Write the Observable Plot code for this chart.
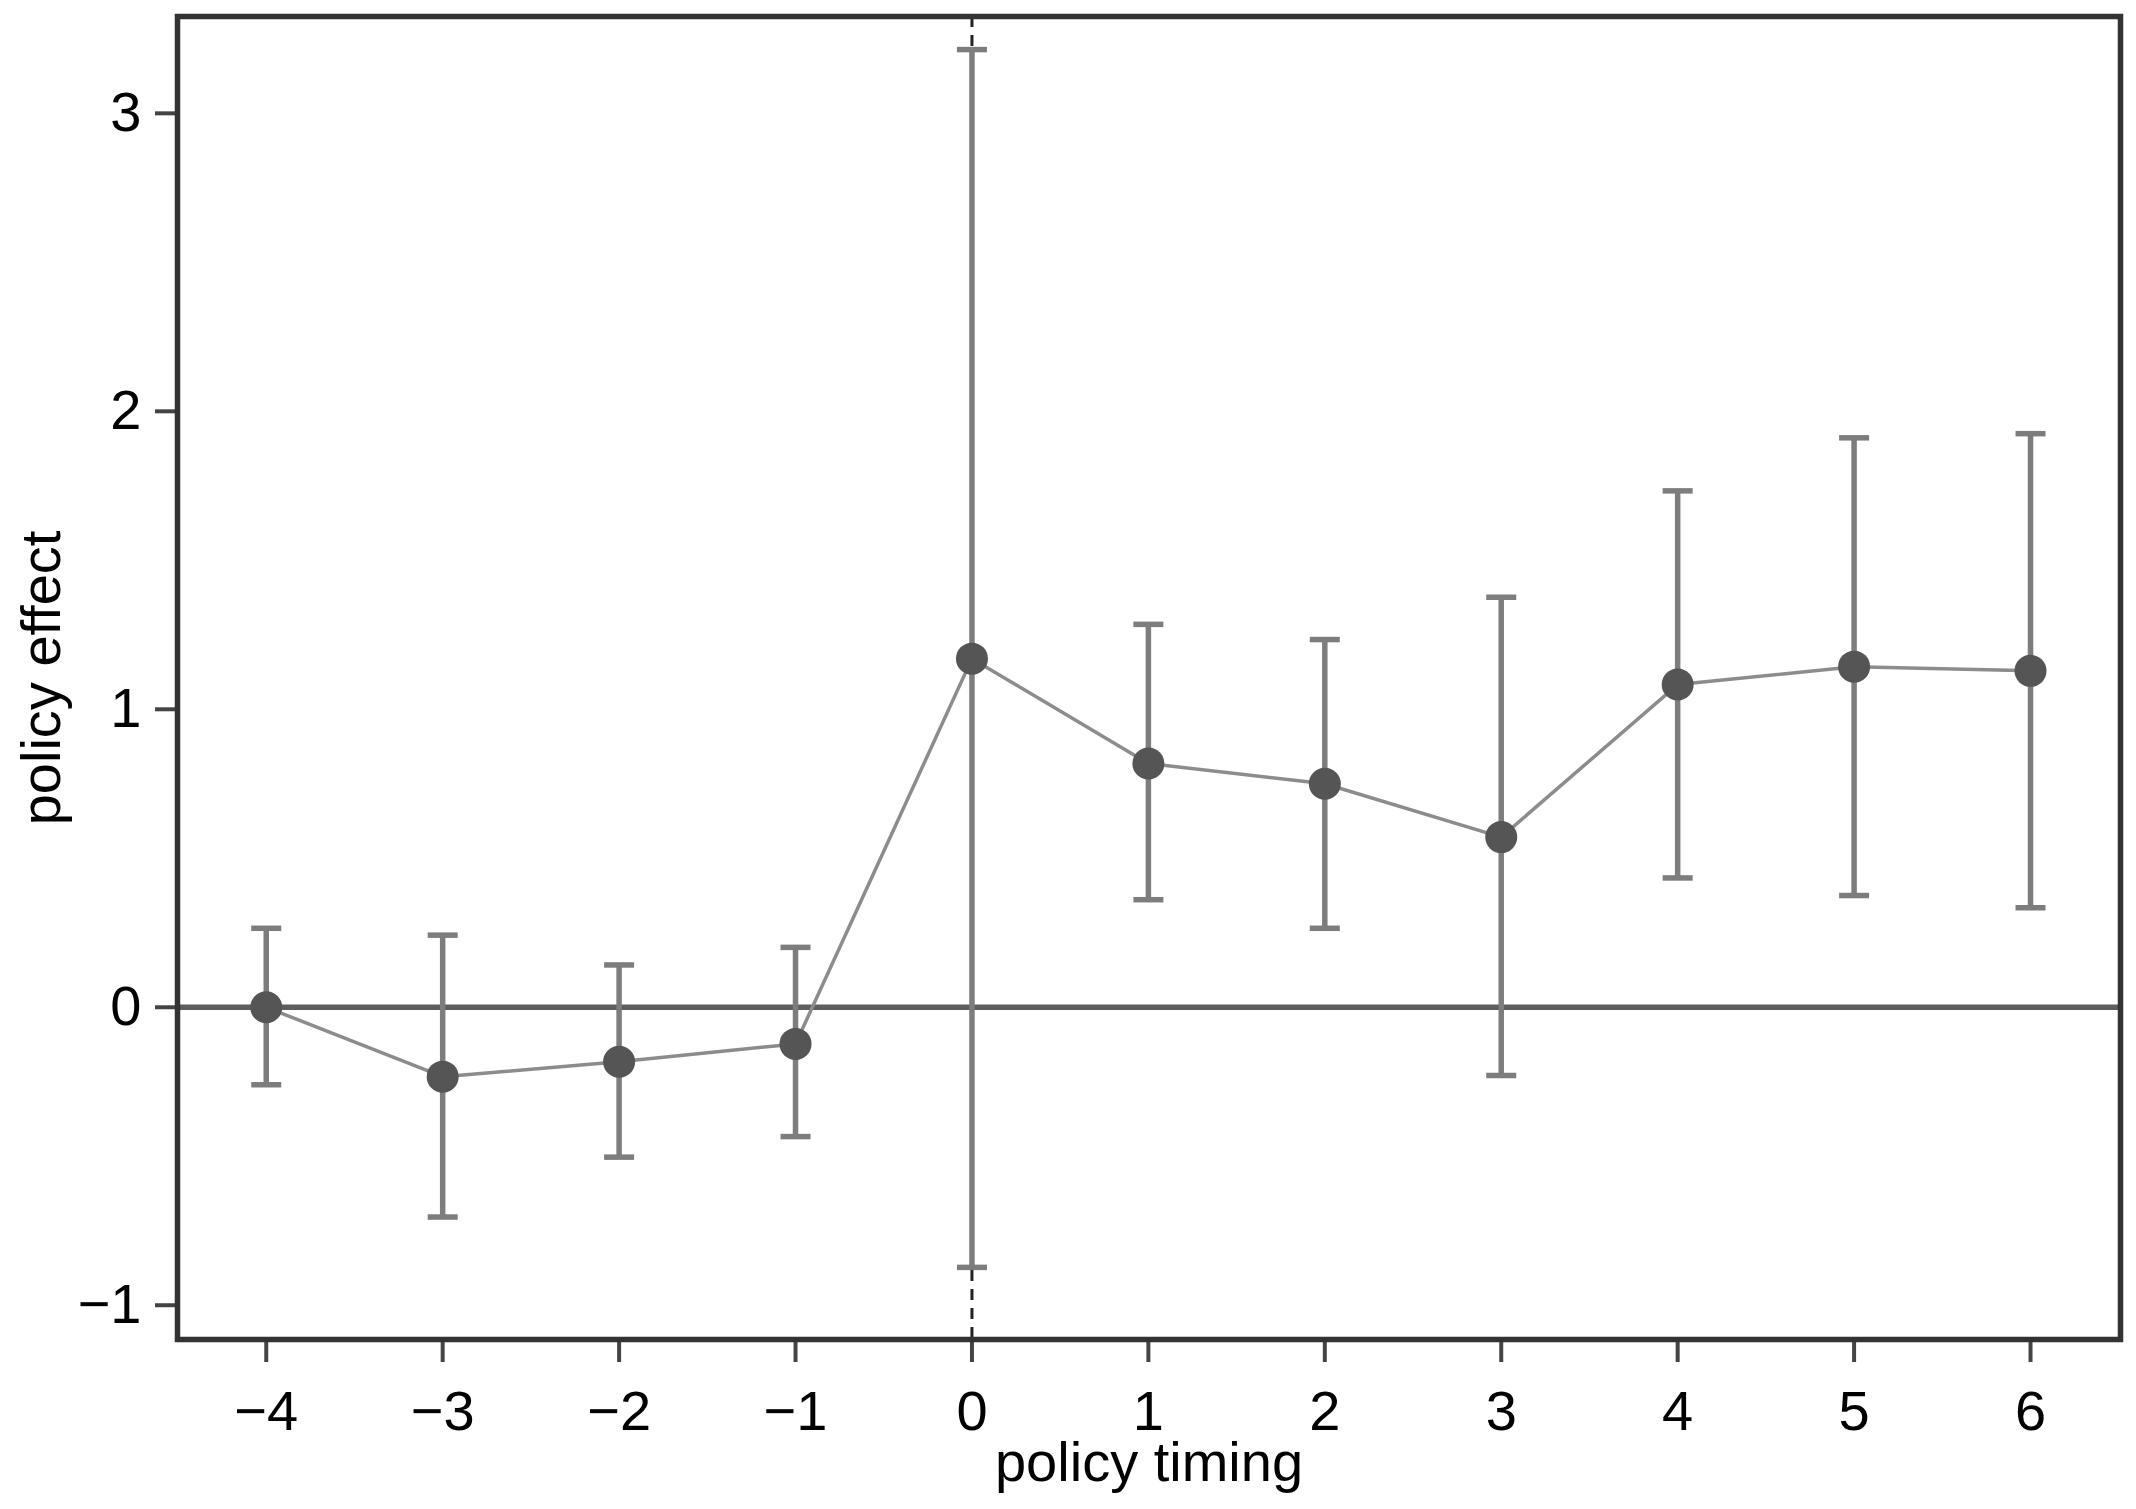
<!DOCTYPE html>
<html>
<head>
<meta charset="utf-8">
<script src="https://cdn.jsdelivr.net/npm/d3@7"></script>
<script src="https://cdn.jsdelivr.net/npm/@observablehq/plot@0.6"></script>
<style>
  html, body { margin: 0; padding: 0; background: #fff; }
  #chart { width: 2136px; height: 1509px; }
</style>
</head>
<body>
<div id="chart"></div>
<script>
// Event-study estimates
const timing  = [-4, -3, -2, -1, 0, 1, 2, 3, 4, 5, 6];
const effect  = [0.000, -0.233, -0.183, -0.123, 1.170, 0.818, 0.750, 0.571, 1.083, 1.143, 1.129];
const ciLow   = [-0.260, -0.704, -0.503, -0.434, -0.873, 0.361, 0.265, -0.229, 0.434, 0.375, 0.334];
const ciHigh  = [0.265, 0.242, 0.142, 0.201, 3.214, 1.285, 1.234, 1.376, 1.733, 1.911, 1.925];
const xTicks  = [-4, -3, -2, -1, 0, 1, 2, 3, 4, 5, 6];
const yTicks  = [-1, 0, 1, 2, 3];
const xLabel  = "policy timing";
const yLabel  = "policy effect";

const data = timing.map((t, i) => ({t, effect: effect[i], lo: ciLow[i], hi: ciHigh[i]}));

// horizontal cap symbol for the error bars
const capSymbol = {
  draw(ctx, size) {
    const w = Math.sqrt(size / Math.PI);
    ctx.moveTo(-w, 0);
    ctx.lineTo(w, 0);
  }
};

const fmt = d3.format("d");
const font = '"Liberation Sans", Arial, Helvetica, sans-serif';

const chart = Plot.plot({
  width: 2136,
  height: 1509,
  marginLeft: 177,
  marginRight: 16,
  marginTop: 16,
  marginBottom: 170,
  style: {fontFamily: font, fontSize: "56px", color: "#000", background: "#fff"},
  x: {domain: [-4.503, 6.51]},
  y: {domain: [-1.115, 3.325]},
  marks: [
    Plot.ruleY([0], {stroke: "#5e5e5e", strokeWidth: 5.5}),
    Plot.ruleX([0], {stroke: "#222", strokeWidth: 3, strokeDasharray: "11,8"}),
    Plot.ruleX(data, {x: "t", y1: "lo", y2: "hi", stroke: "#7d7d7d", strokeWidth: 5.5}),
    Plot.dot(data, {x: "t", y: "lo", symbol: capSymbol, r: 15, stroke: "#7d7d7d", strokeWidth: 5.5, fill: "none"}),
    Plot.dot(data, {x: "t", y: "hi", symbol: capSymbol, r: 15, stroke: "#7d7d7d", strokeWidth: 5.5, fill: "none"}),
    Plot.line(data, {x: "t", y: "effect", stroke: "#8c8c8c", strokeWidth: 3.5}),
    Plot.dot(data, {x: "t", y: "effect", r: 16, fill: "#555", stroke: "none"}),
    Plot.axisX({
      ticks: xTicks, tickFormat: fmt, tickSize: 23, tickPadding: 28,
      stroke: "#444", strokeWidth: 4, fontSize: 56,
      label: xLabel, labelAnchor: "center", labelArrow: "none", labelOffset: 141
    }),
    Plot.axisY({
      ticks: yTicks, tickFormat: fmt, tickSize: 22, tickPadding: 14,
      stroke: "#444", strokeWidth: 4, fontSize: 56,
      label: yLabel, labelAnchor: "center", labelArrow: "none", labelOffset: 157
    }),
    Plot.frame({stroke: "#333", strokeWidth: 5.5})
  ]
});

document.getElementById("chart").appendChild(chart);
</script>
</body>
</html>
